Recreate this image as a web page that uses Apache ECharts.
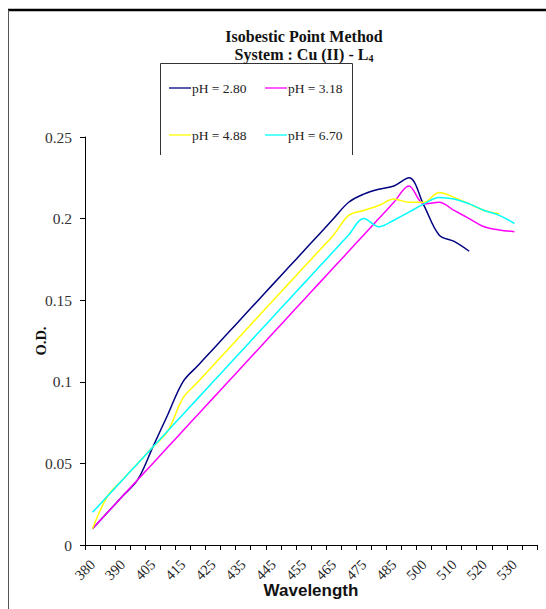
<!DOCTYPE html>
<html>
<head>
<meta charset="utf-8">
<script src="https://cdn.jsdelivr.net/npm/echarts@6/dist/echarts.min.js"></script>
<style>
html,body{margin:0;padding:0;background:#fff;}
#chart{width:546px;height:609px;}
</style>
</head>
<body>
<div id="chart"></div>
<script>
// ---- data ----
const categories = ['380','385','390','400','405','410','415','420','425','430','435','440','445','450','455','460','465','470','475','480','485','490','500','505','510','515','520','525','530','535'];
const seriesNames = ['pH = 2.80','pH = 3.18','pH = 4.88','pH = 6.70'];
const ph280 = [0.01,0.02,0.03,0.04,0.06,0.08,0.10,0.11,0.12,0.13,0.14,0.15,0.16,0.17,0.18,0.19,0.20,0.21,0.215,0.218,0.22,0.225,0.208,0.19,0.186,0.18];
const ph318 = [0.01,0.02,0.03,0.04,0.05,0.06,0.07,0.08,0.09,0.10,0.11,0.12,0.13,0.14,0.15,0.16,0.17,0.18,0.19,0.20,0.21,0.22,0.209,0.21,0.205,0.20,0.195,0.193,0.192];
const ph488 = [0.01,0.03,0.04,0.05,0.06,0.07,0.09,0.10,0.11,0.12,0.13,0.14,0.15,0.16,0.17,0.18,0.19,0.202,0.205,0.208,0.212,0.21,0.21,0.216,0.213,0.209,0.205,0.203];
const ph670 = [0.02,0.03,0.04,0.05,0.06,0.07,0.08,0.09,0.10,0.11,0.12,0.13,0.14,0.15,0.16,0.17,0.18,0.19,0.20,0.195,0.199,0.204,0.209,0.213,0.212,0.209,0.205,0.202,0.197];
const yTicks = [0, 0.05, 0.1, 0.15, 0.2, 0.25];

const colors = ['#000080','#FF00FF','#FFFF00','#00FFFF'];
const seriesData = [ph280, ph318, ph488, ph670];

const chart = echarts.init(document.getElementById('chart'), null, {renderer:'svg'});
const serif = 'Liberation Serif';

const legendPos = [[169,81],[265,81],[169,128],[265,128]];

const option = {
  animation:false,
  backgroundColor:'#fff',
  title:{
    text:'Isobestic Point Method\nSystem : Cu (II) - L{sub|4}',
    left:299, top:22, textAlign:'center',
    textStyle:{fontFamily:serif, fontWeight:'bold', fontSize:16, color:'#111', lineHeight:18,
      rich:{sub:{fontFamily:serif, fontWeight:'bold', fontSize:10, color:'#111', padding:[8,0,0,0]}}}
  },
  legend: seriesNames.map((n,i)=>({
    data:[n], left:legendPos[i][0], top:legendPos[i][1], padding:0,
    icon:'rect', itemWidth:22, itemHeight:1.3, itemGap:0,
    textStyle:{fontFamily:serif, fontSize:13.5, color:'#222', padding:[0,0,0,-4]}
  })),
  grid:{left:85, right:9, top:137, bottom:64, containLabel:false, outerBoundsMode:'none'},
  xAxis:{
    type:'category', data:categories, boundaryGap:true,
    name:'Wavelength', nameLocation:'middle', nameGap:37, nameMoveOverlap:false,
    nameTextStyle:{fontFamily:'Liberation Sans', fontWeight:'bold', fontSize:17, color:'#111'},
    axisLine:{lineStyle:{color:'#000', width:1}},
    axisTick:{show:true, interval:0, length:5, lineStyle:{color:'#000'}},
    axisLabel:{interval:1, rotate:45, margin:17, fontFamily:serif, fontSize:14.5, color:'#222'},
    splitLine:{show:false}
  },
  yAxis:{
    type:'value', min:0, max:0.25, interval:0.05,
    name:'O.D.', nameLocation:'middle', nameGap:37, nameRotate:90, nameMoveOverlap:false,
    nameTextStyle:{fontFamily:serif, fontWeight:'bold', fontSize:14.5, color:'#111'},
    axisLine:{show:true, lineStyle:{color:'#000', width:1}},
    axisTick:{show:true, length:5, lineStyle:{color:'#000'}},
    axisLabel:{margin:13, fontFamily:serif, fontSize:15.5, color:'#333',
      formatter:(v)=>{ const t = yTicks.find(x=>Math.abs(x-v)<1e-9); return t===undefined? '' : String(t); }},
    splitLine:{show:false}
  },
  series: seriesNames.map((n,i)=>({
    name:n, type:'line', data:seriesData[i], smooth:0.35, symbol:'none', showSymbol:false,
    lineStyle:{color:colors[i], width:1.5}, itemStyle:{color:colors[i]}
  })),
  graphic:[
    {type:'line', shape:{x1:8, y1:10, x2:546, y2:10}, style:{stroke:'#000', lineWidth:2.5}, silent:true},
    {type:'line', shape:{x1:8.5, y1:10, x2:8.5, y2:609}, style:{stroke:'#555', lineWidth:1}, silent:true},
    {type:'polyline', shape:{points:[[160.5,155],[160.5,63.5],[352.5,63.5],[352.5,155]]}, style:{stroke:'#333', lineWidth:1, fill:null}, silent:true}
  ]
};
chart.setOption(option);
</script>
</body>
</html>
